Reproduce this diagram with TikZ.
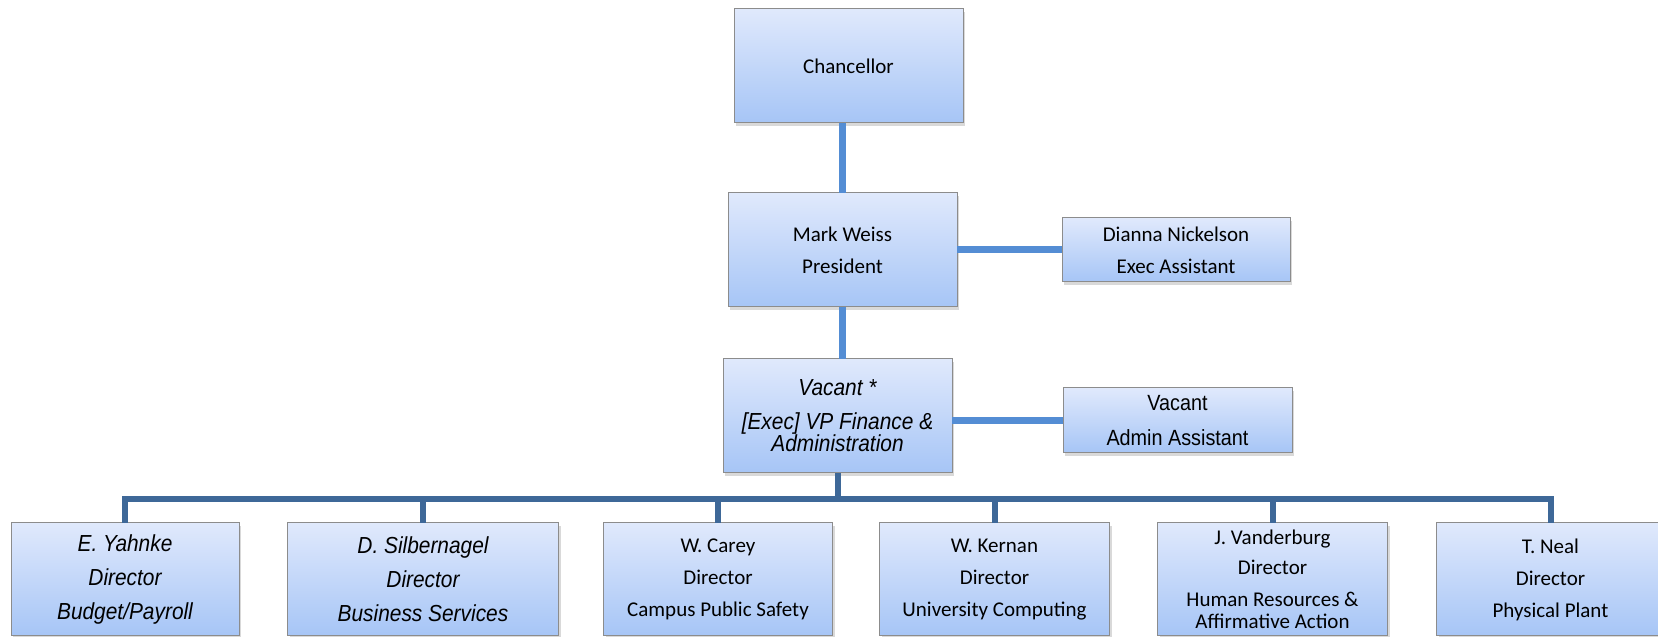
\documentclass[tikz,border=0pt]{standalone}
\usepackage{fontspec}
\setmainfont{Carlito}
\newfontfamily\narrowfont[FakeStretch=0.9]{Liberation Sans}
\usepackage{tikz}
\usetikzlibrary{positioning,shadows}
\definecolor{boxtop}{RGB}{224,233,252}
\definecolor{boxbottom}{RGB}{166,197,246}
\definecolor{boxedge}{RGB}{140,140,140}
\definecolor{linkblue}{RGB}{84,141,212}
\definecolor{busblue}{RGB}{62,104,152}
\tikzset{
  orgbox/.style={rectangle, draw=boxedge, line width=1pt, top color=boxtop, bottom color=boxbottom,
                 minimum width=229pt, minimum height=114pt, inner sep=0pt, outer sep=0pt, align=center,
                 font=\fontsize{21}{32}\selectfont,
                 drop shadow={shadow xshift=2pt, shadow yshift=-3pt, opacity=0.3}},
  sidebox/.style={orgbox, minimum height=65pt},
  lowbox/.style={orgbox, minimum height=113pt},
  narrow/.style={font=\narrowfont\fontsize{22}{35}\selectfont},
  slanted/.style={font=\narrowfont\itshape\fontsize{23.2}{34}\selectfont},
  uplink/.style={draw=linkblue, line width=7pt},
  buslink/.style={draw=busblue, line width=6pt},
}

\begin{document}
\begin{tikzpicture}[x=1pt,y=1pt]
\useasboundingbox (0,0) rectangle (1658,637);
%Nodes
\node[orgbox] (chan) at (848.5,571) {Chancellor};
\node[orgbox] (pres) [below=70pt of chan, xshift=-6pt] {Mark Weiss\\President};
\node[orgbox, slanted] (vp) [below=52pt of pres, xshift=-5pt] {Vacant *\\{}[Exec] VP Finance \&\\[-12pt]Administration};
\node[sidebox, minimum width=228pt, minimum height=64pt] (dianna) [right=105pt of pres] {Dianna Nickelson\\Exec Assistant};
\node[sidebox, narrow] (admin) [right=111pt of vp, yshift=-4.5pt] {Vacant\\Admin Assistant};

\node[lowbox, slanted, minimum width=228pt] (d1) at (125,57.5) {E. Yahnke\\Director\\Budget/Payroll};
\node[lowbox, slanted, minimum width=271pt] (d2) [right=48.5pt of d1] {D. Silbernagel\\Director\\Business Services};
\node[lowbox] (d3) [right=45pt of d2] {W. Carey\\Director\\Campus Public Safety};
\node[lowbox, minimum width=230pt] (d4) [right=47pt of d3] {W. Kernan\\Director\\University Computing};
\node[lowbox, minimum width=230pt] (d5) [right=48pt of d4] {J. Vanderburg\\[-2pt]Director\\Human Resources \&\\[-10pt]Affirmative Action};
\node[lowbox, minimum width=228pt] (d6) [right=49pt of d5] {T. Neal\\Director\\Physical Plant};
\coordinate (bus) at (0,137.5);

%Lines
\draw[uplink] (pres.north) -- (pres.north |- chan.south);
\draw[uplink] (pres.south) -- (pres.south |- vp.north);
\draw[uplink] (pres.east) -- (dianna.west);
\draw[uplink] (admin.west) -- (admin.west -| vp.east);
\draw[buslink] (vp.south) -- (vp.south |- bus);
\draw[buslink] (d1.north) -- (d1.north |- bus) -- (d6.north |- bus) -- (d6.north);
\foreach \d in {d2,d3,d4,d5}
  \draw[buslink] (\d.north) -- (\d.north |- bus);
\end{tikzpicture}
\end{document}
